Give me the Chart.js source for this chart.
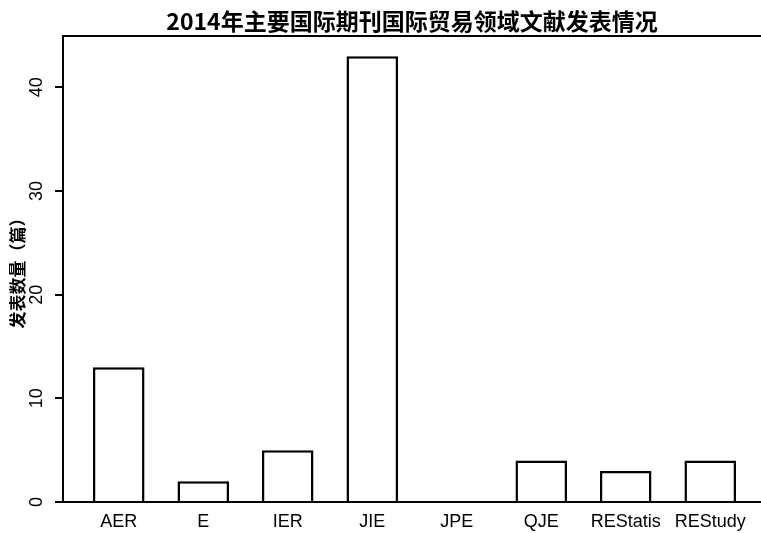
<!DOCTYPE html>
<html>
<head>
<meta charset="utf-8">
<script src="https://cdn.jsdelivr.net/npm/chart.js@4"></script>
<style>
  html, body { margin: 0; padding: 0; background: #fff; }
  canvas { display: block; }
</style>
</head>
<body>
<canvas id="pubChart" width="761" height="533"></canvas>
<script>
const journals = ['AER', 'E', 'IER', 'JIE', 'JPE', 'QJE', 'REStatis', 'REStudy'];
const paperCounts = [13, 2, 5, 43, 0, 4, 3, 4];
const yTicks = [0, 10, 20, 30, 40];
const chartTitle = '2014年主要国际期刊国际贸易领域文献发表情况';
const yLabel = '发表数量（篇）';

// top edge of the plot box + the title above it
const frame = {
  id: 'frame',
  afterDraw(chart) {
    const { ctx, chartArea } = chart;
    ctx.save();
    ctx.strokeStyle = '#000';
    ctx.lineWidth = 2;
    ctx.beginPath();
    ctx.moveTo(chartArea.left - 1, chartArea.top);
    ctx.lineTo(chart.width, chartArea.top);
    ctx.stroke();
    ctx.fillStyle = '#000';
    ctx.font = 'bold 23px "Noto Sans CJK SC"';
    ctx.textAlign = 'center';
    ctx.textBaseline = 'middle';
    ctx.fillText(chartTitle, (chartArea.left + chartArea.right) / 2, 21);
    ctx.restore();
  }
};

const ctx = document.getElementById('pubChart');
new Chart(ctx, {
  type: 'bar',
  data: {
    datasets: [{
      data: journals.map((j, i) => ({ x: i, y: paperCounts[i] })),
      backgroundColor: '#fff',
      borderColor: '#000',
      borderWidth: 2.5,
      borderSkipped: 'start',
      barPercentage: 0.61,
      categoryPercentage: 1
    }]
  },
  options: {
    responsive: false,
    devicePixelRatio: 1,
    animation: false,
    layout: { padding: { top: 36, left: 0, right: 0, bottom: 0 } },
    scales: {
      x: {
        type: 'linear',
        offset: false,
        min: -0.66,
        max: 7.601,
        grid: { display: false, drawTicks: false },
        border: { display: true, color: '#000', width: 2 },
        afterBuildTicks: axis => { axis.ticks = journals.map((j, i) => ({ value: i })); },
        afterFit: s => { s.height = 31; },
        ticks: {
          autoSkip: false,
          maxRotation: 0,
          padding: 9,
          color: '#000',
          font: { family: 'Liberation Sans', size: 18 },
          callback: v => journals[v]
        }
      },
      y: {
        min: 0,
        max: 44.95,
        grid: { display: true, drawOnChartArea: false, drawTicks: true, tickLength: 8, color: '#000', lineWidth: 2 },
        border: { display: true, color: '#000', width: 2 },
        afterBuildTicks: axis => { axis.ticks = yTicks.map(v => ({ value: v })); },
        afterFit: s => { s.width = 63; },
        ticks: {
          minRotation: 90,
          maxRotation: 90,
          crossAlign: 'center',
          padding: 8,
          color: '#000',
          font: { family: 'Liberation Sans', size: 18 }
        },
        title: {
          display: true,
          text: yLabel,
          color: '#000',
          padding: { top: 7, bottom: 0 },
          font: { family: 'Noto Sans CJK SC', size: 17, weight: 'bold' }
        }
      }
    },
    plugins: {
      legend: { display: false },
      title: { display: false },
      tooltip: { enabled: false }
    }
  },
  plugins: [frame]
});
</script>
</body>
</html>
